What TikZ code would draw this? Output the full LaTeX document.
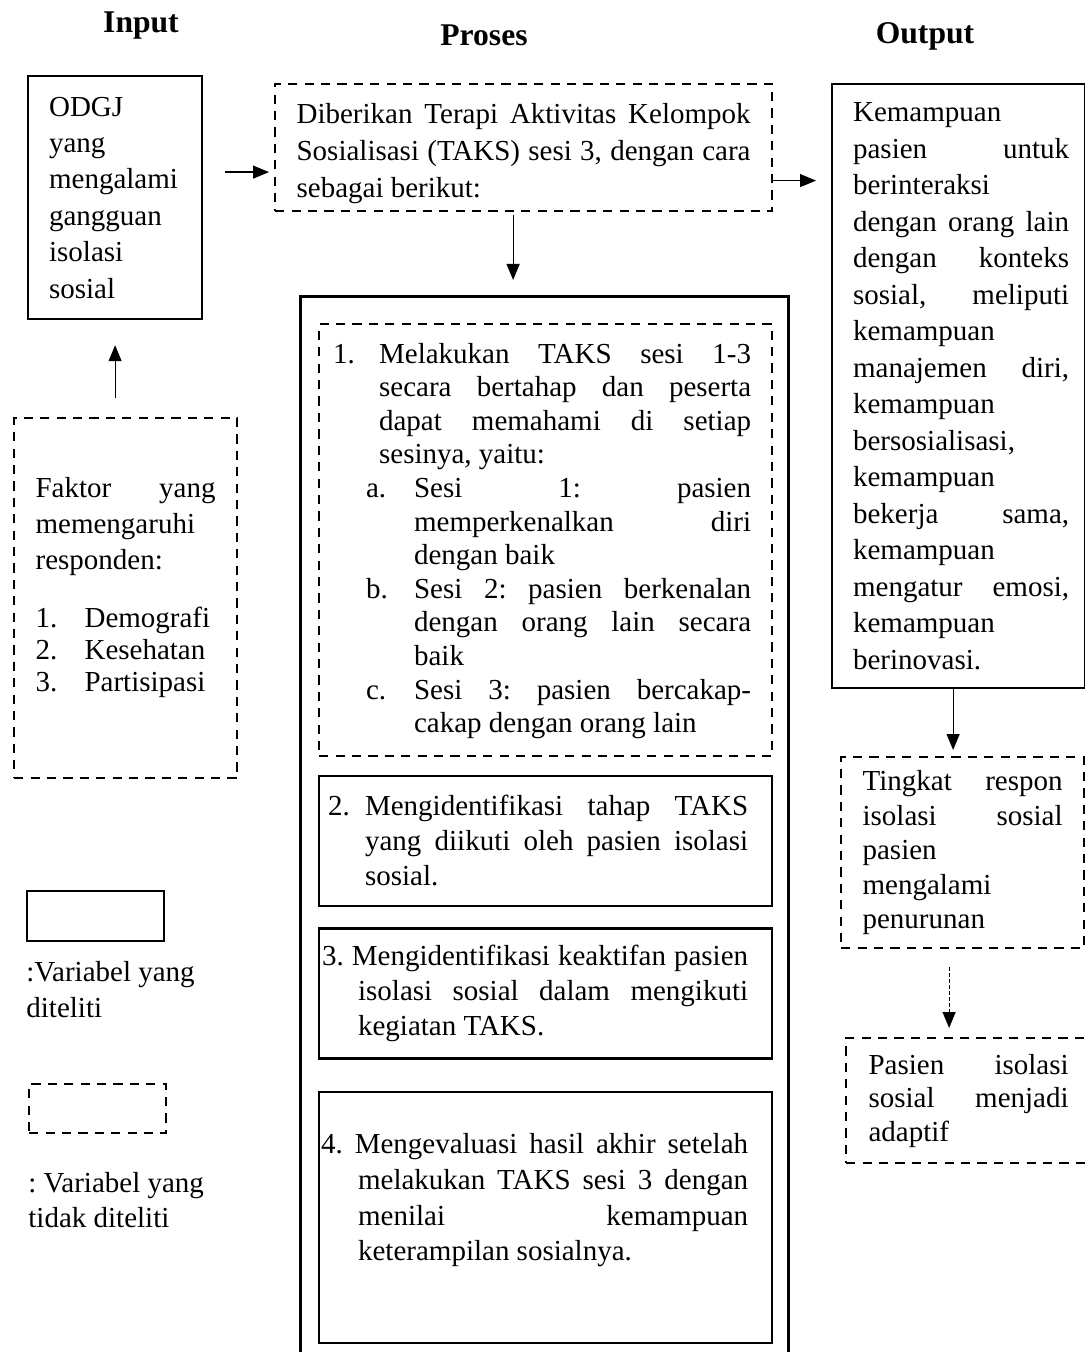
\documentclass[tikz,border=0pt]{standalone}
\usepackage{fontspec}
\setmainfont{Liberation Serif}
\usepackage{tikz}
\usetikzlibrary{arrows.meta, positioning}

\setlength{\parindent}{0pt}
\tolerance=10000
\hbadness=10000
\frenchspacing

\newcommand{\poin}[3]{\par\noindent\hangindent=#2\relax\hangafter=1\relax\hspace*{#1}\makebox[\dimexpr#2-#1\relax][l]{#3}}

\tikzset{
    txt/.style={font=\fontsize{14.5}{#1}\selectfont},
    solidbox/.style={draw, line width=1.1pt, inner sep=0pt, anchor=north west, align=justify},
    dashbox/.style={solidbox, dash pattern=on 4.6pt off 3.6pt},
    arr/.style={-{Triangle[length=8pt,width=6.5pt]}, line width=0.6pt},
    head/.style={font=\fontsize{15.8}{19}\selectfont\bfseries}
}

\begin{document}
\begin{tikzpicture}[x=0.5pt, y=-0.5pt]
            \useasboundingbox (0,0) rectangle (1084,1352);

            \node (input_title) [head] at (141,26) {Input};
            \node (proses_title) [head] at (484,35) {Proses};
            \node (output_title) [head] at (925,36) {Output};

            \node (odgj_box) [solidbox, minimum width=87pt, minimum height=121.5pt, text width=66pt, align=left, txt=18.2pt] at (27,75) {ODGJ\\ yang\\ mengalami\\ gangguan\\ isolasi\\ sosial};

            \node (faktor_box) [dashbox, minimum width=111.5pt, minimum height=180pt, text width=90pt, txt=18pt] at (13,417) {Faktor yang \linebreak memengaruhi\\ responden:\par
                \baselineskip=16pt\vspace{13pt}
                \poin{0pt}{24.5pt}{1.}Demografi
                \poin{0pt}{24.5pt}{2.}Kesehatan
                \poin{0pt}{24.5pt}{3.}Partisipasi\rule[-14pt]{0pt}{14pt}\par};

            \node (taks_box) [dashbox, minimum width=248.5pt, minimum height=63.5pt, text width=227pt, txt=18.5pt] at (274,83) {\rule{0pt}{16pt}Diberikan Terapi Aktivitas Kelompok \linebreak Sosialisasi (TAKS) sesi 3, dengan cara \linebreak sebagai berikut:\par};

            \node (proses_box) [solidbox, line width=1.4pt, minimum width=244pt, minimum height=532.5pt] at (299,295) {};

            \node (langkah1) [dashbox, minimum width=226.5pt, minimum height=216pt, text width=212.5pt, txt=16.8pt] at (318,323) {\rightskip=3.5pt
                \poin{0pt}{23pt}{1.}Melakukan TAKS sesi 1-3 \linebreak secara bertahap dan peserta \linebreak dapat memahami di setiap \linebreak sesinya, yaitu:
                \poin{16.5pt}{40.5pt}{a.}Sesi 1: pasien \linebreak memperkenalkan diri \linebreak dengan baik
                \poin{16.5pt}{40.5pt}{b.}Sesi 2: pasien berkenalan \linebreak dengan orang lain secara \linebreak baik
                \poin{16.5pt}{40.5pt}{c.}Sesi 3: pasien bercakap-\linebreak cakap dengan orang lain\rule[-9pt]{0pt}{9pt}\par};
            \node (langkah2) [solidbox, anchor=north, minimum width=226.5pt, minimum height=65pt, text width=217.5pt, txt=17.5pt, below=9pt of langkah1] {\rightskip=7.5pt
                \poin{0pt}{18.5pt}{2.}Mengidentifikasi tahap TAKS \linebreak yang diikuti oleh pasien isolasi \linebreak sosial.\rule[-8pt]{0pt}{8pt}\par};
            \node (langkah3) [solidbox, anchor=north, minimum width=226.5pt, minimum height=65pt, text width=223.5pt, txt=17.5pt, below=10pt of langkah2] {\rightskip=10.5pt
                \noindent\hangindent=18pt\hangafter=1 3. Mengidentifikasi keaktifan pasien \linebreak isolasi sosial dalam mengikuti \linebreak kegiatan TAKS.\par};
            \node (langkah4) [solidbox, anchor=north, minimum width=226.5pt, minimum height=125.5pt, text width=224.5pt, txt=17.8pt, below=15.5pt of langkah3] {\rightskip=11pt
                \noindent\hangindent=18.5pt\hangafter=1 4. Mengevaluasi hasil akhir setelah \linebreak melakukan TAKS sesi 3 dengan \linebreak menilai kemampuan \linebreak keterampilan sosialnya.\rule[-20pt]{0pt}{20pt}\par};

            \node (output_box) [solidbox, minimum width=126.5pt, minimum height=302pt, text width=108pt, txt=18.25pt] at (831,83) {\leftskip=1.25pt\rightskip=-1.25pt
                Kemampuan\\ pasien untuk \linebreak berinteraksi\\ dengan orang lain \linebreak dengan konteks \linebreak sosial, meliputi \linebreak kemampuan\\ manajemen diri, \linebreak kemampuan\\ bersosialisasi,\\ kemampuan\\ bekerja sama, \linebreak kemampuan\\ mengatur emosi, \linebreak kemampuan\\ berinovasi.\par};

            \node (tingkat_box) [dashbox, minimum width=121.5pt, minimum height=95.5pt, text width=100pt, txt=17.25pt] at (840,756) {Tingkat respon \linebreak isolasi sosial \linebreak pasien\\ mengalami\\ penurunan};

            \node (pasien_box) [dashbox, minimum width=122.5pt, minimum height=62.5pt, text width=100pt, txt=16.75pt] at (845,1037) {Pasien isolasi \linebreak sosial menjadi \linebreak adaptif};

            \node (leg_solid) [solidbox, minimum width=68.5pt, minimum height=25pt] at (26,890) {};
            \node (ket_solid) [below=9.5pt of leg_solid.south west, anchor=north west, inner sep=0pt, align=left, txt=18pt] {:Variabel yang\\ diteliti};
            \node (leg_dash) [dashbox, minimum width=68.5pt, minimum height=24.5pt] at (28,1083) {};
            \node (ket_dash) [below=19pt of leg_dash.south west, anchor=north west, inner sep=0pt, align=left, txt=17.5pt] {: Variabel yang\\ tidak diteliti};

            \coordinate (in_arrow) at ([xshift=11pt, yshift=12.75pt]odgj_box.east);
            \coordinate (out_arrow) at ([yshift=-16.5pt]taks_box.east);
            \draw[arr, shorten <=9.5pt, shorten >=12.5pt] (odgj_box.south |- faktor_box.north) -- (odgj_box.south);
            \draw[arr, shorten >=2.5pt] (in_arrow) -- (in_arrow -| taks_box.west);
            \draw[arr, shorten >=7.5pt] (out_arrow) -- (out_arrow -| output_box.west);
            \draw[arr, shorten <=1.5pt, shorten >=7.5pt] ([xshift=-5.25pt]taks_box.south) -- ([xshift=-5.25pt]taks_box.south |- proses_box.north);
            \draw[arr, shorten >=3pt] ([xshift=-2.75pt]output_box.south) -- ([xshift=-2.75pt]output_box.south |- tingkat_box.north);
            \draw[arr, dash pattern=on 2pt off 1pt, shorten <=9pt, shorten >=4.5pt] ([xshift=-6.75pt]tingkat_box.south) -- ([xshift=-6.75pt]tingkat_box.south |- pasien_box.north);
\end{tikzpicture}
\end{document}
